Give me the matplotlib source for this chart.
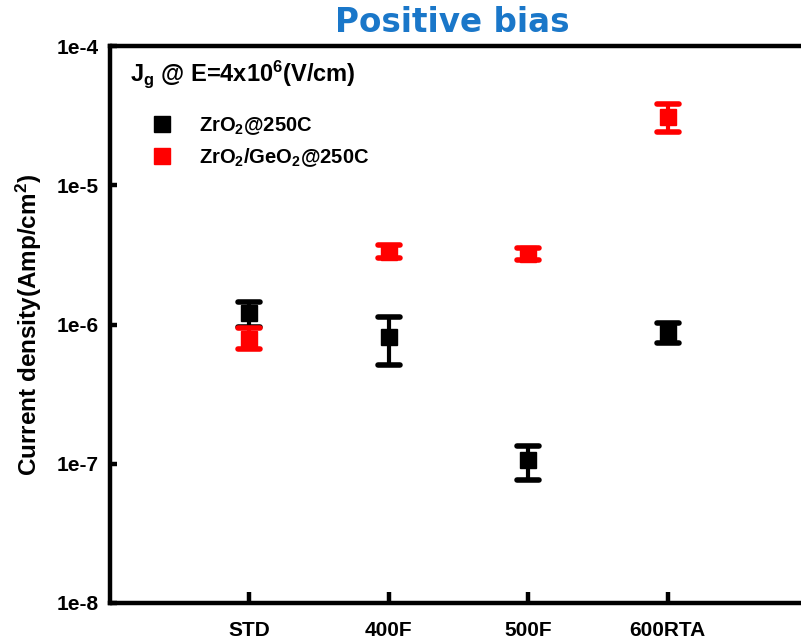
#!/usr/bin/env python3
"""Gate leakage current density at E = 4 MV/cm, positive bias."""

import matplotlib

matplotlib.use("Agg")
import matplotlib.pyplot as plt
from matplotlib.lines import Line2D
from matplotlib.markers import MarkerStyle
from matplotlib.ticker import FixedLocator, FixedFormatter

# --- data ---
conditions = ["STD", "400F", "500F", "600RTA"]
xpos = [1, 2, 3, 4]

zro2_mean = [1.21e-6, 8.2e-7, 1.06e-7, 8.7e-7]
zro2_hi = [1.45e-6, 1.14e-6, 1.35e-7, 1.03e-6]
zro2_lo = [0.96e-6, 5.1e-7, 7.6e-8, 7.4e-7]

geo2_mean = [7.9e-7, 3.34e-6, 3.21e-6, 3.10e-5]
geo2_hi = [9.4e-7, 3.72e-6, 3.54e-6, 3.84e-5]
geo2_lo = [6.7e-7, 3.00e-6, 2.90e-6, 2.41e-5]

ytick_vals = [1e-8, 1e-7, 1e-6, 1e-5, 1e-4]
ytick_text = ["1e-8", "1e-7", "1e-6", "1e-5", "1e-4"]

plt.rcParams["font.family"] = ["Liberation Sans", "DejaVu Sans"]
plt.rcParams["font.weight"] = "bold"
plt.rcParams["mathtext.fontset"] = "custom"
plt.rcParams["mathtext.rm"] = "Liberation Sans:bold"
plt.rcParams["mathtext.bf"] = "Liberation Sans:bold"
plt.rcParams["mathtext.it"] = "Liberation Sans:bold"

fig = plt.figure(figsize=(8.01, 6.43), dpi=100)
ax = fig.add_axes([110 / 801, 40 / 643, 697 / 801, 557 / 643])


def err(mean, lo, hi):
    return [[m - l for m, l in zip(mean, lo)], [h - m for m, h in zip(mean, hi)]]


for mean, lo, hi, col in [
    (zro2_mean, zro2_lo, zro2_hi, "black"),
    (geo2_mean, geo2_lo, geo2_hi, "#ff0000"),
]:
    _, caps, bars = ax.errorbar(
        xpos, mean, yerr=err(mean, lo, hi), fmt="s", color=col, ms=11,
        elinewidth=3, capsize=8, capthick=4, zorder=3,
    )
    for c in caps:
        c.set_marker(MarkerStyle("_", capstyle="round"))

ax.set_yscale("log")
ax.set_ylim(1e-8, 1e-4)
ax.set_xlim(0, 5)
ax.yaxis.set_major_locator(FixedLocator(ytick_vals))
ax.yaxis.set_major_formatter(FixedFormatter(ytick_text))
ax.yaxis.set_minor_locator(FixedLocator([]))
ax.set_xticks(xpos)
ax.set_xticklabels(conditions)

for s in ("left", "top", "bottom"):
    ax.spines[s].set_linewidth(3.2)
ax.spines["right"].set_visible(False)

ax.tick_params(axis="y", direction="in", length=5, width=3.2, pad=8, labelsize=15)
ax.tick_params(axis="x", direction="in", length=8, width=3.2, pad=13, labelsize=15)
for lab in ax.get_xticklabels() + ax.get_yticklabels():
    lab.set_fontweight("bold")

ax.set_ylabel(r"Current density(Amp/cm$^2$)", fontsize=17.5, fontweight="bold", labelpad=9)

ax.text(20 / 697, 0.978, r"J$_\mathrm{g}$ @ E=4x10$^\mathrm{6}$(V/cm)", transform=ax.transAxes,
        fontsize=17, fontweight="bold", va="top", ha="left")

handles = [
    Line2D([], [], marker="s", ls="none", color="black", ms=11),
    Line2D([], [], marker="s", ls="none", color="#ff0000", ms=11),
]
ax.legend(handles, [r"ZrO$_2$@250C", r"ZrO$_2$/GeO$_2$@250C"], loc="upper left",
          bbox_to_anchor=(24 / 697, 0.89), frameon=False, fontsize=14.5,
          handletextpad=0.85, labelspacing=0.45, borderaxespad=0)

fig.text(0.565, 0.99, "Positive bias", color="#1a77c9", fontsize=23.5,
         fontweight="bold", family="DejaVu Sans", ha="center", va="top")

fig.savefig("out.png", dpi=100)
